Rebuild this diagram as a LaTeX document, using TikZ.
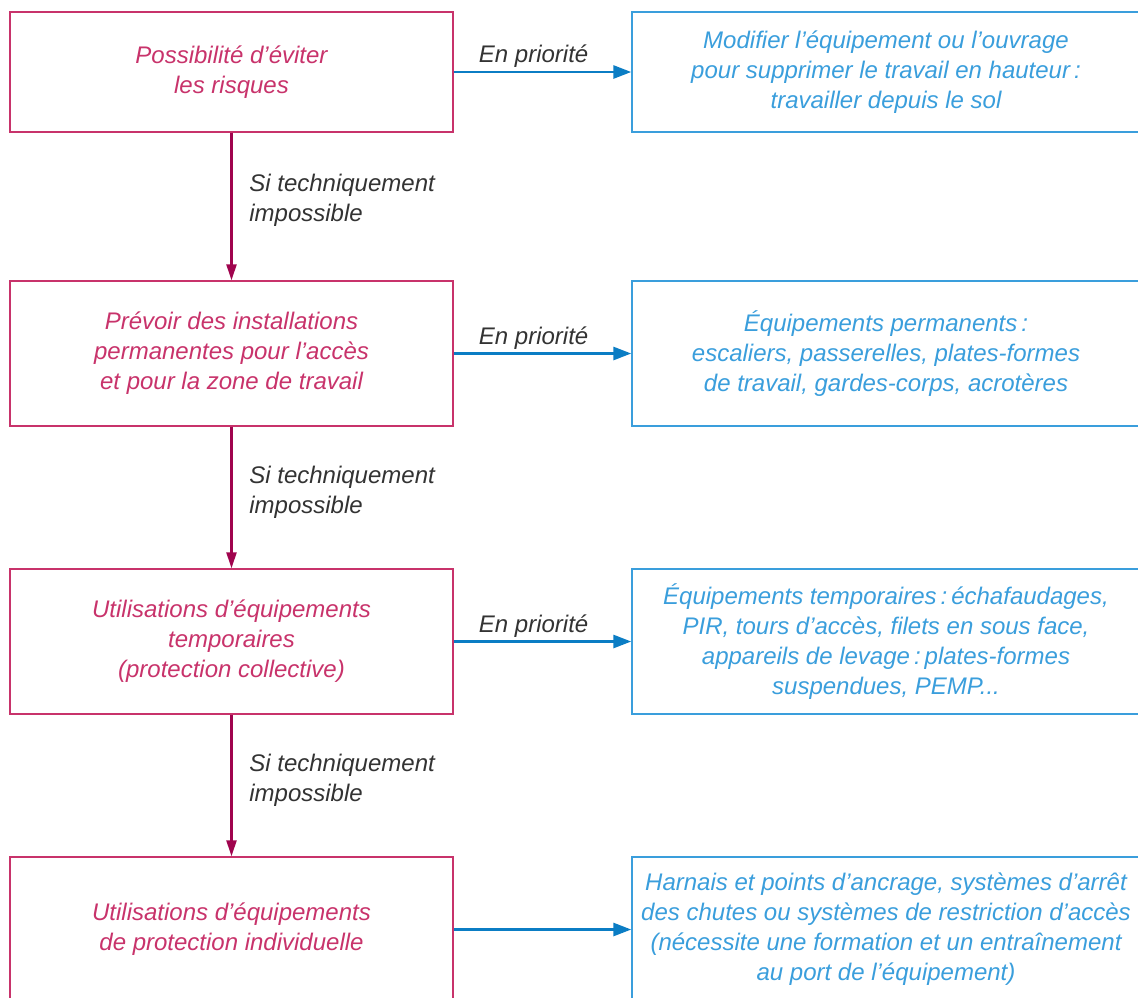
\documentclass[tikz,border=0pt]{standalone}
\usepackage{fontspec}
\setmainfont{Liberation Sans}
\usetikzlibrary{positioning, arrows.meta}
\definecolor{riskred}{HTML}{C8336B}
\definecolor{riskdark}{HTML}{A0044E}
\definecolor{riskblue}{HTML}{3A9EDC}
\definecolor{riskarrow}{HTML}{0B7DC4}
\definecolor{risklabel}{HTML}{333333}

\begin{document}
\begin{tikzpicture}[x=0.5pt, y=-0.5pt,
        leftbox/.style={draw=riskred, line width=0.7pt, minimum width=221.5pt, minimum height=72.5pt, align=center, text=riskred, font=\itshape\fontsize{12}{15}\selectfont},
        rightbox/.style={draw=riskblue, line width=0.7pt, minimum width=254pt, minimum height=72.5pt, align=center, text=riskblue, font=\itshape\fontsize{12}{15}\selectfont},
        lbl/.style={text=risklabel, font=\itshape\fontsize{12}{15}\selectfont},
        gor/.style={-{Triangle[length=9pt, width=6.5pt]}, line width=1.4pt, riskarrow},
        god/.style={-{Triangle[length=8pt, width=5pt]}, line width=1.2pt, riskdark}]
      \useasboundingbox (0,0) rectangle (1138,997);
      \clip (0,0) rectangle (1138,997);
      \node[leftbox, minimum height=60pt] (l1) at (231.5,72) {Possibilité d’éviter\\les risques};
      \node[leftbox] (l2) at (231.5,353.5) {Prévoir des installations\\permanentes pour l’accès\\et pour la zone de travail};
      \node[leftbox] (l3) at (231.5,641.5) {Utilisations d’équipements\\temporaires\\(protection collective)};
      \node[leftbox] (l4) at (231.5,929.5) {Utilisations d’équipements\\de protection individuelle};

      \node[rightbox, minimum height=60pt] (r1) at (886,72) {Modifier l’équipement ou l’ouvrage\\pour supprimer le travail en hauteur\,:\\travailler depuis le sol};
      \node[rightbox] (r2) at (886,353.5) {Équipements permanents\,:\\escaliers, passerelles, plates-formes\\de travail, gardes-corps, acrotères};
      \node[rightbox] (r3) at (886,641.5) {Équipements temporaires\,:\,échafaudages,\\PIR, tours d’accès, filets en sous face,\\appareils de levage\,:\,plates-formes\\suspendues, PEMP...};
      \node[rightbox] (r4) at (886,929.5) {Harnais et points d’ancrage, systèmes d’arrêt\\des chutes ou systèmes de restriction d’accès\\(nécessite une formation et un entraînement\\au port de l’équipement)};

      \draw[gor] (l1) -- node[lbl, above=-2pt, pos=0.45] {En priorité} (r1);
      \draw[gor] (l2) -- node[lbl, above=-2pt, pos=0.45] {En priorité} (r2);
      \draw[gor] (l3) -- node[lbl, above=-2pt, pos=0.45] {En priorité} (r3);
      \draw[gor] (l4) -- (r4);

      \draw[god] (l1) -- node[lbl, right=5pt, align=left, pos=0.46] {Si techniquement\\impossible} (l2);
      \draw[god] (l2) -- node[lbl, right=5pt, align=left, pos=0.46] {Si techniquement\\impossible} (l3);
      \draw[god] (l3) -- node[lbl, right=5pt, align=left, pos=0.46] {Si techniquement\\impossible} (l4);
    \end{tikzpicture}
\end{document}
